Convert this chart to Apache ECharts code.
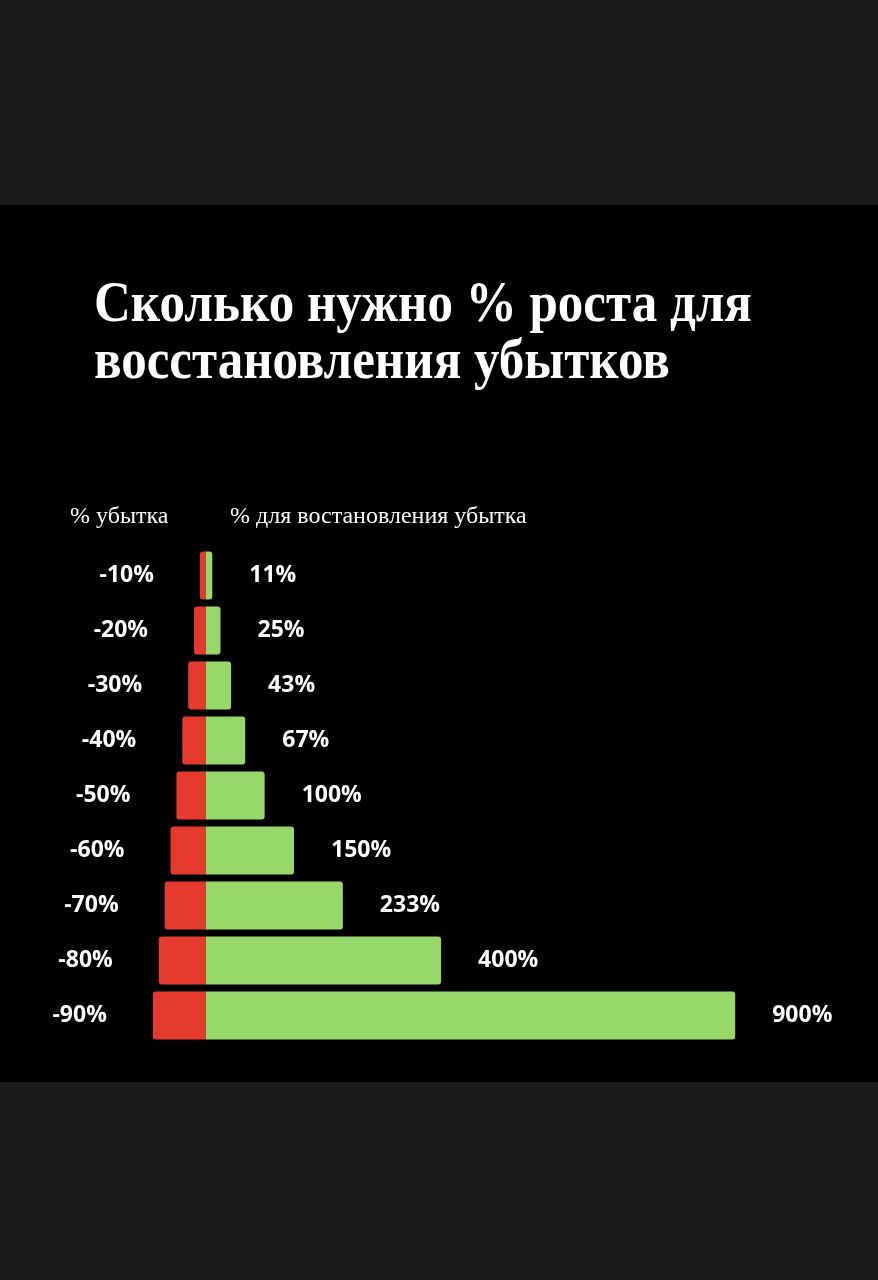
<!DOCTYPE html>
<html>
<head>
<meta charset="utf-8">
<script src="https://cdn.jsdelivr.net/npm/echarts@6/dist/echarts.min.js"></script>
<style>
  html, body { margin: 0; padding: 0; background: #000; }
  #main { width: 878px; height: 1280px; }
</style>
</head>
<body>
<div id="main"></div>
<script>
// данные: % убытка и % роста для восстановления
var categories = ['-10%', '-20%', '-30%', '-40%', '-50%', '-60%', '-70%', '-80%', '-90%'];
var lossValues = [-10, -20, -30, -40, -50, -60, -70, -80, -90];
var recoveryValues = [11, 25, 43, 67, 100, 150, 233, 400, 900];

var titleLines = ['Сколько нужно % роста для', 'восстановления убытков'];
var headerLeft = '% убытка';
var headerRight = '% для востановления убытка';

var chart = echarts.init(document.getElementById('main'));

var option = {
  backgroundColor: '#000',
  animation: false,
  graphic: [
    { type: 'rect', shape: { x: 0, y: 0, width: 878, height: 205 }, style: { fill: '#1b1b1b' } },
    { type: 'rect', shape: { x: 0, y: 1082, width: 878, height: 198 }, style: { fill: '#1b1b1b' } },
    {
      type: 'text', x: 94, y: 335, scaleY: 1.12,
      style: { text: titleLines[0], fill: '#fff', font: 'bold 51px "Liberation Serif"', textVerticalAlign: 'bottom' }
    },
    {
      type: 'text', x: 94, y: 392, scaleY: 1.12,
      style: { text: titleLines[1], fill: '#fff', font: 'bold 51px "Liberation Serif"', textVerticalAlign: 'bottom' }
    },
    {
      type: 'text', x: 70, y: 529,
      style: { text: headerLeft, fill: '#fff', font: '24px "Liberation Serif"', textVerticalAlign: 'bottom' }
    },
    {
      type: 'text', x: 230, y: 529,
      style: { text: headerRight, fill: '#fff', font: '24px "Liberation Serif"', textVerticalAlign: 'bottom' }
    }
  ],
  grid: {
    left: 147,
    right: 84,
    top: 548,
    bottom: 237
  },
  xAxis: {
    type: 'value',
    min: -100,
    max: 1000,
    show: false
  },
  yAxis: {
    type: 'category',
    data: categories,
    inverse: true,
    show: false
  },
  series: [
    {
      name: 'убыток',
      type: 'bar',
      data: lossValues,
      barWidth: 48,
      barGap: '-100%',
      itemStyle: { color: '#e53a2e', borderRadius: [3, 0, 0, 3] },
      label: {
        show: true,
        position: 'left',
        distance: 46,
        color: '#fff',
        fontFamily: 'Open Sans',
        fontWeight: 'bold',
        fontSize: 23,
        formatter: function (p) { return p.value + '%'; }
      }
    },
    {
      name: 'восстановление',
      type: 'bar',
      data: recoveryValues,
      barWidth: 48,
      barGap: '-100%',
      itemStyle: { color: '#97d86b', borderRadius: [0, 3, 3, 0] },
      label: {
        show: true,
        position: 'right',
        distance: 37,
        color: '#fff',
        fontFamily: 'Open Sans',
        fontWeight: 'bold',
        fontSize: 23,
        formatter: function (p) { return p.value + '%'; }
      }
    }
  ]
};

chart.setOption(option);
</script>
</body>
</html>
